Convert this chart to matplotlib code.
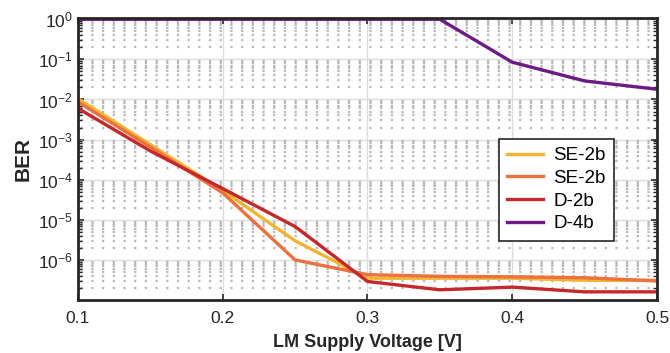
import numpy as np
import matplotlib
matplotlib.use('Agg')
import matplotlib.pyplot as plt
from matplotlib.ticker import FixedLocator, LogLocator, NullFormatter, LogFormatterSciNotation

plt.rcParams['font.family'] = ['Liberation Sans', 'DejaVu Sans']
plt.rcParams['mathtext.fontset'] = 'custom'
plt.rcParams['mathtext.rm'] = 'Liberation Sans'
plt.rcParams['mathtext.it'] = 'Liberation Sans:italic'
plt.rcParams['mathtext.bf'] = 'Liberation Sans:bold'
plt.rcParams['axes.unicode_minus'] = False
plt.rcParams['lines.scale_dashes'] = False

# data
voltage = [0.1, 0.15, 0.2, 0.25, 0.3, 0.35, 0.4, 0.45, 0.5]
ber_se2b_a = [1.05e-2, 7.5e-4, 5.4e-5, 3.0e-6, 3.5e-7, 3.5e-7, 3.5e-7, 3.1e-7, 3.1e-7]
ber_se2b_b = [8.7e-3, 6.5e-4, 4.7e-5, 1.0e-6, 4.3e-7, 3.9e-7, 3.8e-7, 3.6e-7, 3.0e-7]
ber_d2b = [6.0e-3, 5.2e-4, 6.0e-5, 6.8e-6, 2.9e-7, 1.8e-7, 2.1e-7, 1.6e-7, 1.6e-7]
ber_d4b = [1.0, 1.0, 1.0, 1.0, 1.0, 1.0, 8.5e-2, 2.9e-2, 1.8e-2]

labels = ['SE-2b', 'SE-2b', 'D-2b', 'D-4b']
colors = ['#f2b530', '#ec7040', '#c4282a', '#6c1a84']

fig = plt.figure(figsize=(6.7, 3.53), dpi=100)
ax = fig.add_axes([0.1164, 0.150, 0.8642, 0.800])

for ys, lab, c in zip([ber_se2b_a, ber_se2b_b, ber_d2b, ber_d4b], labels, colors):
    ax.plot(voltage, ys, color=c, lw=2.4, label=lab, solid_joinstyle='miter')

ax.set_yscale('log')
ax.set_xlim(0.1, 0.5)
ax.set_ylim(1e-7, 10 ** 0.04)

ax.xaxis.set_major_locator(FixedLocator([0.1, 0.2, 0.3, 0.4, 0.5]))
ax.yaxis.set_major_locator(FixedLocator([1e-6, 1e-5, 1e-4, 1e-3, 1e-2, 1e-1, 1e0]))
ax.yaxis.set_minor_locator(LogLocator(base=10, subs=np.arange(2, 10), numticks=20))
ax.yaxis.set_major_formatter(LogFormatterSciNotation())
ax.yaxis.set_minor_formatter(NullFormatter())
ax.xaxis.set_major_formatter(matplotlib.ticker.FormatStrFormatter('%g'))

# major grid solid, minor grid dotted (MATLAB-style dots)
ax.grid(True, which='major', color='#dcdcdc', lw=1.0, ls='-')
ax.grid(True, which='minor', axis='y', color='#b8b8b8', lw=1.6,
        ls=(5.8, (1.6, 6.1)))
ax.set_axisbelow(True)

ax.tick_params(which='both', direction='in', top=True, right=True, labelsize=12.5,
               colors='#262626', labelcolor='#262626')
ax.tick_params(which='major', length=4, width=1.2)
ax.tick_params(which='minor', length=3, width=1.0)
ax.tick_params(axis='x', pad=8)

for s in ax.spines.values():
    s.set_linewidth(2.0)
    s.set_color('#262626')
    s.set_zorder(3)

ax.set_xlabel('LM Supply Voltage [V]', fontsize=13, fontweight='bold', color='#262626', labelpad=6)
ax.set_ylabel('BER', fontsize=15, fontweight='bold', color='#262626', labelpad=4)

leg = ax.legend(loc='upper left', bbox_to_anchor=(0.711, 0.605), fontsize=13.5,
                frameon=True, fancybox=False, framealpha=1, edgecolor='#262626',
                handlelength=1.9, handletextpad=0.55, labelspacing=0.3, borderpad=0.45)
leg.get_frame().set_linewidth(1.2)

fig.savefig('out.png', dpi=100)
